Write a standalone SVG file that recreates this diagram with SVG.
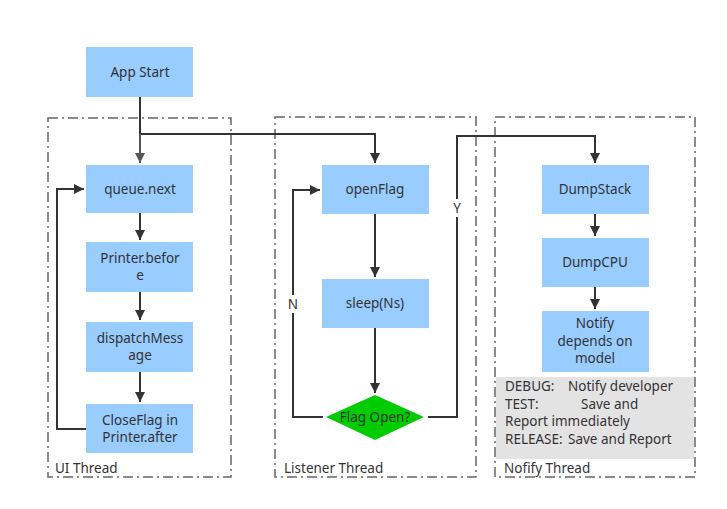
<svg xmlns="http://www.w3.org/2000/svg" width="727" height="509" viewBox="0 0 727 509">
<defs>
<marker id="ah" viewBox="0 0 10 10" refX="10" refY="5" markerWidth="10" markerHeight="10" markerUnits="userSpaceOnUse" orient="auto">
<path d="M0,0 L10,5 L0,10 Z" fill="#333"/>
</marker>
<marker id="ahg" viewBox="0 0 10 10" refX="10" refY="5" markerWidth="10" markerHeight="10" markerUnits="userSpaceOnUse" orient="auto">
<path d="M0,0 L10,5 L0,10 Z" fill="#555"/>
</marker>
</defs>
<style>
text{font-family:"Noto Sans","Open Sans","DejaVu Sans",sans-serif;font-size:13.5px;fill:#333}
.c{text-anchor:middle}
.node{fill:#99ccff}
.lane{fill:none;stroke:#666;stroke-width:1.5;stroke-dasharray:10 4 2 4}
.e{fill:none;stroke:#333;stroke-width:2}
</style>
<rect width="727" height="509" fill="#fff"/>
<g id="lanes">
<g id="ui-thread"><rect class="lane" x="48" y="118" width="183" height="359"/><text x="55" y="473">UI Thread</text></g>
<g id="listener-thread"><rect class="lane" x="275" y="117" width="201" height="360"/><text x="284" y="473">Listener Thread</text></g>
<g id="notify-thread"><rect class="lane" x="495" y="117" width="200" height="360"/><text x="504" y="473">Nofify Thread</text></g>
</g>
<g id="connectors">
<path d="M140,97 V134 H375 V163" class="e" marker-end="url(#ah)"/>
<path d="M140,134 V163" fill="none" stroke="#555" stroke-width="2" marker-end="url(#ahg)"/>
<path d="M140,213 V240" class="e" marker-end="url(#ah)"/>
<path d="M140,292 V320" class="e" marker-end="url(#ah)"/>
<path d="M140,372 V402" class="e" marker-end="url(#ah)"/>
<path d="M86,429 H57 V189 H84" class="e" marker-end="url(#ah)"/>
<path d="M375,214 V277" class="e" marker-end="url(#ah)"/>
<path d="M375,328 V393" class="e" marker-end="url(#ah)"/>
<path d="M323,417 H293 V190 H320" class="e" marker-end="url(#ah)"/>
<path d="M428,417 H457 V136 H595 V163" class="e" marker-end="url(#ah)"/>
<path d="M595,214 V236" class="e" marker-end="url(#ah)"/>
<path d="M595,287 V309" class="e" marker-end="url(#ah)"/>
<rect x="286" y="295" width="14" height="18" fill="#fff"/>
<text class="c" x="293" y="309">N</text>
<rect x="450" y="199" width="14" height="18" fill="#fff"/>
<text class="c" x="457" y="213">Y</text>
</g>
<g id="app-start"><rect class="node" x="86" y="47" width="107" height="50"/><text class="c" x="140" y="77">App Start</text></g>
<g id="queue-next"><rect class="node" x="86" y="165" width="107" height="48"/><text class="c" x="140" y="194">queue.next</text></g>
<g id="printer-before"><rect class="node" x="86" y="242" width="107" height="50"/><text class="c" x="140" y="263">Printer.befor</text><text class="c" x="140" y="280">e</text></g>
<g id="dispatch"><rect class="node" x="86" y="322" width="107" height="50"/><text class="c" x="140" y="343">dispatchMess</text><text class="c" x="140" y="360">age</text></g>
<g id="closeflag"><rect class="node" x="86" y="404" width="107" height="49"/><text class="c" x="140" y="425">CloseFlag in</text><text class="c" x="140" y="442">Printer.after</text></g>
<g id="openflag"><rect class="node" x="322" y="165" width="107" height="49"/><text class="c" x="375" y="194">openFlag</text></g>
<g id="sleep"><rect class="node" x="322" y="279" width="107" height="49"/><text class="c" x="375" y="308">sleep(Ns)</text></g>
<g id="flag-open"><path d="M375,395 L424,417 L375,440 L326,417 Z" fill="#00cc00"/><text class="c" x="375" y="422">Flag Open?</text></g>
<g id="dumpstack"><rect class="node" x="542" y="165" width="107" height="49"/><text class="c" x="595" y="194">DumpStack</text></g>
<g id="dumpcpu"><rect class="node" x="542" y="238" width="107" height="49"/><text class="c" x="595" y="267">DumpCPU</text></g>
<g id="notify"><rect class="node" x="542" y="311" width="107" height="61"/><text class="c" x="595" y="328">Notify</text><text class="c" x="595" y="345.5">depends on</text><text class="c" x="595" y="363">model</text></g>
<g id="note"><rect x="496" y="377" width="198" height="82" fill="#e3e3e3"/>
<text x="505" y="391">DEBUG:</text><text x="568" y="391">Notify developer</text>
<text x="505" y="408.5">TEST:</text><text x="581" y="408.5">Save and</text>
<text x="505" y="426">Report immediately</text>
<text x="505" y="443.5">RELEASE:</text><text x="568" y="443.5">Save and Report</text>
</g>
</svg>
